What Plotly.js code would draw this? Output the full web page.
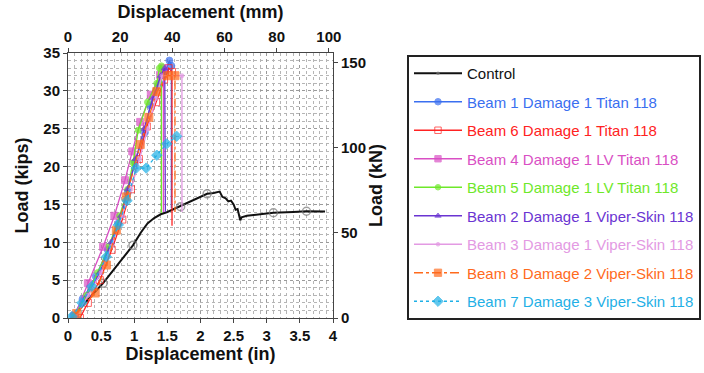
<!DOCTYPE html>
<html><head><meta charset="utf-8">
<script src="https://cdn.plot.ly/plotly-3.0.1.min.js"></script>
<style>html,body{margin:0;padding:0;background:#fff;}#chart{width:704px;height:373px;}</style>
</head><body><div id="chart"></div>
<script>
// ---- data (inches, kips) ----
const controlX = [0.05,0.15,0.25,0.38,0.53,0.7,0.85,0.98,1.1,1.2,1.3,1.4,1.5,1.6,1.7,1.85,2.0,2.1,2.2,2.29,2.33,2.38,2.42,2.46,2.5,2.53,2.56,2.6,2.62,2.7,2.9,3.1,3.4,3.6,3.88];
const controlY = [0,1,2,3.2,4.6,6.5,8.3,9.6,11.3,12.5,13.2,13.7,14.0,14.4,14.7,15.3,15.9,16.4,16.5,16.7,16.0,15.8,15.4,15.5,15.0,14.3,14.4,12.9,13.3,13.5,13.7,13.9,14.0,14.1,14.05];
const controlMarkIdx = [4,7,14,17,31,33];

const b1X = [0.08,0.22,0.42,0.6,0.76,0.9,1.01,1.16,1.24,1.38,1.47,1.53,1.56,1.56];
const b1Y = [0.3,2.5,5.5,9.0,12.5,16.5,20.6,24.5,28.1,31.0,32.5,34.0,33.3,14.5];

const b6X = [0.18,0.3,0.48,0.66,0.82,0.95,1.07,1.19,1.33,1.45,1.52,1.57,1.57];
const b6Y = [0,2,5,9,13,17,21,25.3,28.5,31.5,33.0,32.5,12.2];

const b4X = [0.1,0.3,0.53,0.7,0.86,0.97,1.09,1.25,1.39,1.44,1.44];
const b4Y = [0.3,4.6,9.4,13.5,18.2,22.0,25.9,29.5,32.1,33.0,14.0];

const b5X = [0.1,0.28,0.45,0.62,0.78,0.9,0.98,1.06,1.2,1.34,1.38,1.41,1.41];
const b5Y = [0.3,3,6,9.5,13.5,17,20.5,24.8,28.5,31.0,33.0,33.3,13.9];

const b2X = [0.12,0.3,0.48,0.65,0.8,0.9,1.02,1.15,1.28,1.4,1.46,1.47];
const b2Y = [0.3,3,6,10,13.5,17,21,25,29,32,33,14];

const b3X = [0.12,0.3,0.5,0.66,0.82,0.95,1.08,1.2,1.33,1.42,1.72,1.72];
const b3Y = [0.2,3,6,9.5,13.5,17,21,25,29,32,32,14];

const b8X = [0.13,0.41,0.58,0.73,0.88,1.09,1.22,1.34,1.5,1.615,1.615];
const b8Y = [0.6,3.3,7,11.6,16,22.9,26.5,29.9,32,32,14];

const b7X = [0.06,0.21,0.36,0.58,0.76,0.89,1.03,1.18,1.34,1.49,1.64];
const b7Y = [0.2,2,4.2,8.1,12.3,15.5,19.8,19.8,21.5,23,24];

const names = ['Control','Beam 1 Damage 1 Titan 118','Beam 6 Damage 1 Titan 118','Beam 4 Damage 1 LV Titan 118','Beam 5 Damage 1 LV Titan 118','Beam 2 Damage 1 Viper-Skin 118','Beam 3 Damage 1 Viper-Skin 118','Beam 8 Damage 2 Viper-Skin 118','Beam 7 Damage 3 Viper-Skin 118'];

const xTickVals = [0,0.5,1,1.5,2,2.5,3,3.5,4];
const xTickText = ['0','0.5','1','1.5','2','2.5','3','3.5','4'];
const mmTicks = [0,20,40,60,80,100];
const kNTicks = [0,50,100,150];
const IN_TO_MM = 25.4, KIP_TO_KN = 4.448;

// ---- traces ----
function lbl(t, c){ return '<span style="color:'+c+'">'+t+'</span>'; }
function beam(x, y, name, color, symbol, dash, msize, lastNoMark){
  const sizes = x.map((_, i) => (lastNoMark && i === x.length-1) ? 0 : msize);
  return {x:x, y:y, name:lbl(name,color), type:'scatter', mode:'lines+markers',
    line:{color:color, width:1.3, dash:dash},
    marker:{color:color, symbol:symbol, size:sizes, line:{color:color, width:1}},
    legendgroup:name};
}
const traces = [
  {x:controlX, y:controlY, name:lbl(names[0],'#111'), type:'scatter', mode:'lines+markers',
   line:{color:'#111', width:2},
   marker:{symbol:'circle-open', color:'#777', size:controlX.map((_, i)=>controlMarkIdx.includes(i)?8:0), line:{width:1.5,color:'#777'}},
   legendgroup:'c'},
  beam(b1X,b1Y,names[1],'#3a6ff0','circle','solid',7,true),
  beam(b6X,b6Y,names[2],'#ff2222','square-open','solid',7,true),
  beam(b4X,b4Y,names[3],'#d94fc4','square','solid',7,true),
  beam(b5X,b5Y,names[4],'#6ee82a','circle','solid',6,true),
  beam(b2X,b2Y,names[5],'#6a34d2','triangle-up','solid',6,true),
  beam(b3X,b3Y,names[6],'#e39ae3','circle','solid',4,true),
  beam(b8X,b8Y,names[7],'#ff6a1c','square','dashdot',8,true),
  beam(b7X,b7Y,names[8],'#1fb0e6','diamond','dot',8,false),
  {x:[0,4*IN_TO_MM], y:[0,35*KIP_TO_KN], xaxis:'x2', yaxis:'y2', mode:'markers', marker:{opacity:0}, showlegend:false, hoverinfo:'skip', type:'scatter'}
];

const tickFont = {family:'Arial, Liberation Sans, sans-serif', size:15, color:'#111', weight:'bold'};
const titleFont = {family:'Arial, Liberation Sans, sans-serif', size:18, color:'#111', weight:'bold'};
const gridCommon = {showgrid:true, gridcolor:'#9a9a9a', griddash:'dot', gridwidth:1};

const layout = {
  width:704, height:373,
  margin:{l:68, r:371, t:53, b:55},
  paper_bgcolor:'#fff', plot_bgcolor:'#fff',
  showlegend:true,
  xaxis:Object.assign({range:[0,4], tickvals:xTickVals, ticktext:xTickText, tickfont:tickFont,
    title:{text:'Displacement (in)', font:titleFont, standoff:4},
    ticks:'outside', ticklen:4, tickcolor:'#444', linecolor:'#444', linewidth:1, mirror:false, zeroline:false,
    minor:{dtick:0.1, showgrid:true, gridcolor:'#b5b5b5', griddash:'dot', gridwidth:1}}, gridCommon),
  yaxis:Object.assign({range:[0,35], dtick:5, tickfont:tickFont,
    title:{text:'Load (kips)', font:titleFont, standoff:10},
    ticks:'outside', ticklen:4, tickcolor:'#444', linecolor:'#444', linewidth:1, zeroline:false,
    minor:{dtick:1, showgrid:true, gridcolor:'#b5b5b5', griddash:'dot', gridwidth:1}}, gridCommon),
  xaxis2:{overlaying:'x', side:'top', anchor:'y', range:[0,4*IN_TO_MM], tickvals:mmTicks, tickfont:tickFont,
    title:{text:'Displacement (mm)', font:titleFont, standoff:4}, showgrid:false, zeroline:false,
    ticks:'outside', ticklen:4, tickcolor:'#444', linecolor:'#444', linewidth:1},
  yaxis2:{overlaying:'y', side:'right', anchor:'x', range:[0,35*KIP_TO_KN], tickvals:kNTicks, tickfont:tickFont,
    title:{text:'Load (kN)', font:titleFont, standoff:2}, showgrid:false, zeroline:false,
    ticks:'outside', ticklen:4, tickcolor:'#444', linecolor:'#444', linewidth:1},
  legend:{xref:'container', yref:'paper', x:407/704, y:(318-55)/265, xanchor:'left', yanchor:'top',
    bordercolor:'#222', borderwidth:2, bgcolor:'#fff',
    font:{family:'Arial, Liberation Sans, sans-serif', size:15, color:'#111'},
    traceorder:'grouped', tracegroupgap:6, itemwidth:48},
};

Plotly.newPlot('chart', traces, layout, {staticPlot:true, displayModeBar:false});
</script></body></html>
